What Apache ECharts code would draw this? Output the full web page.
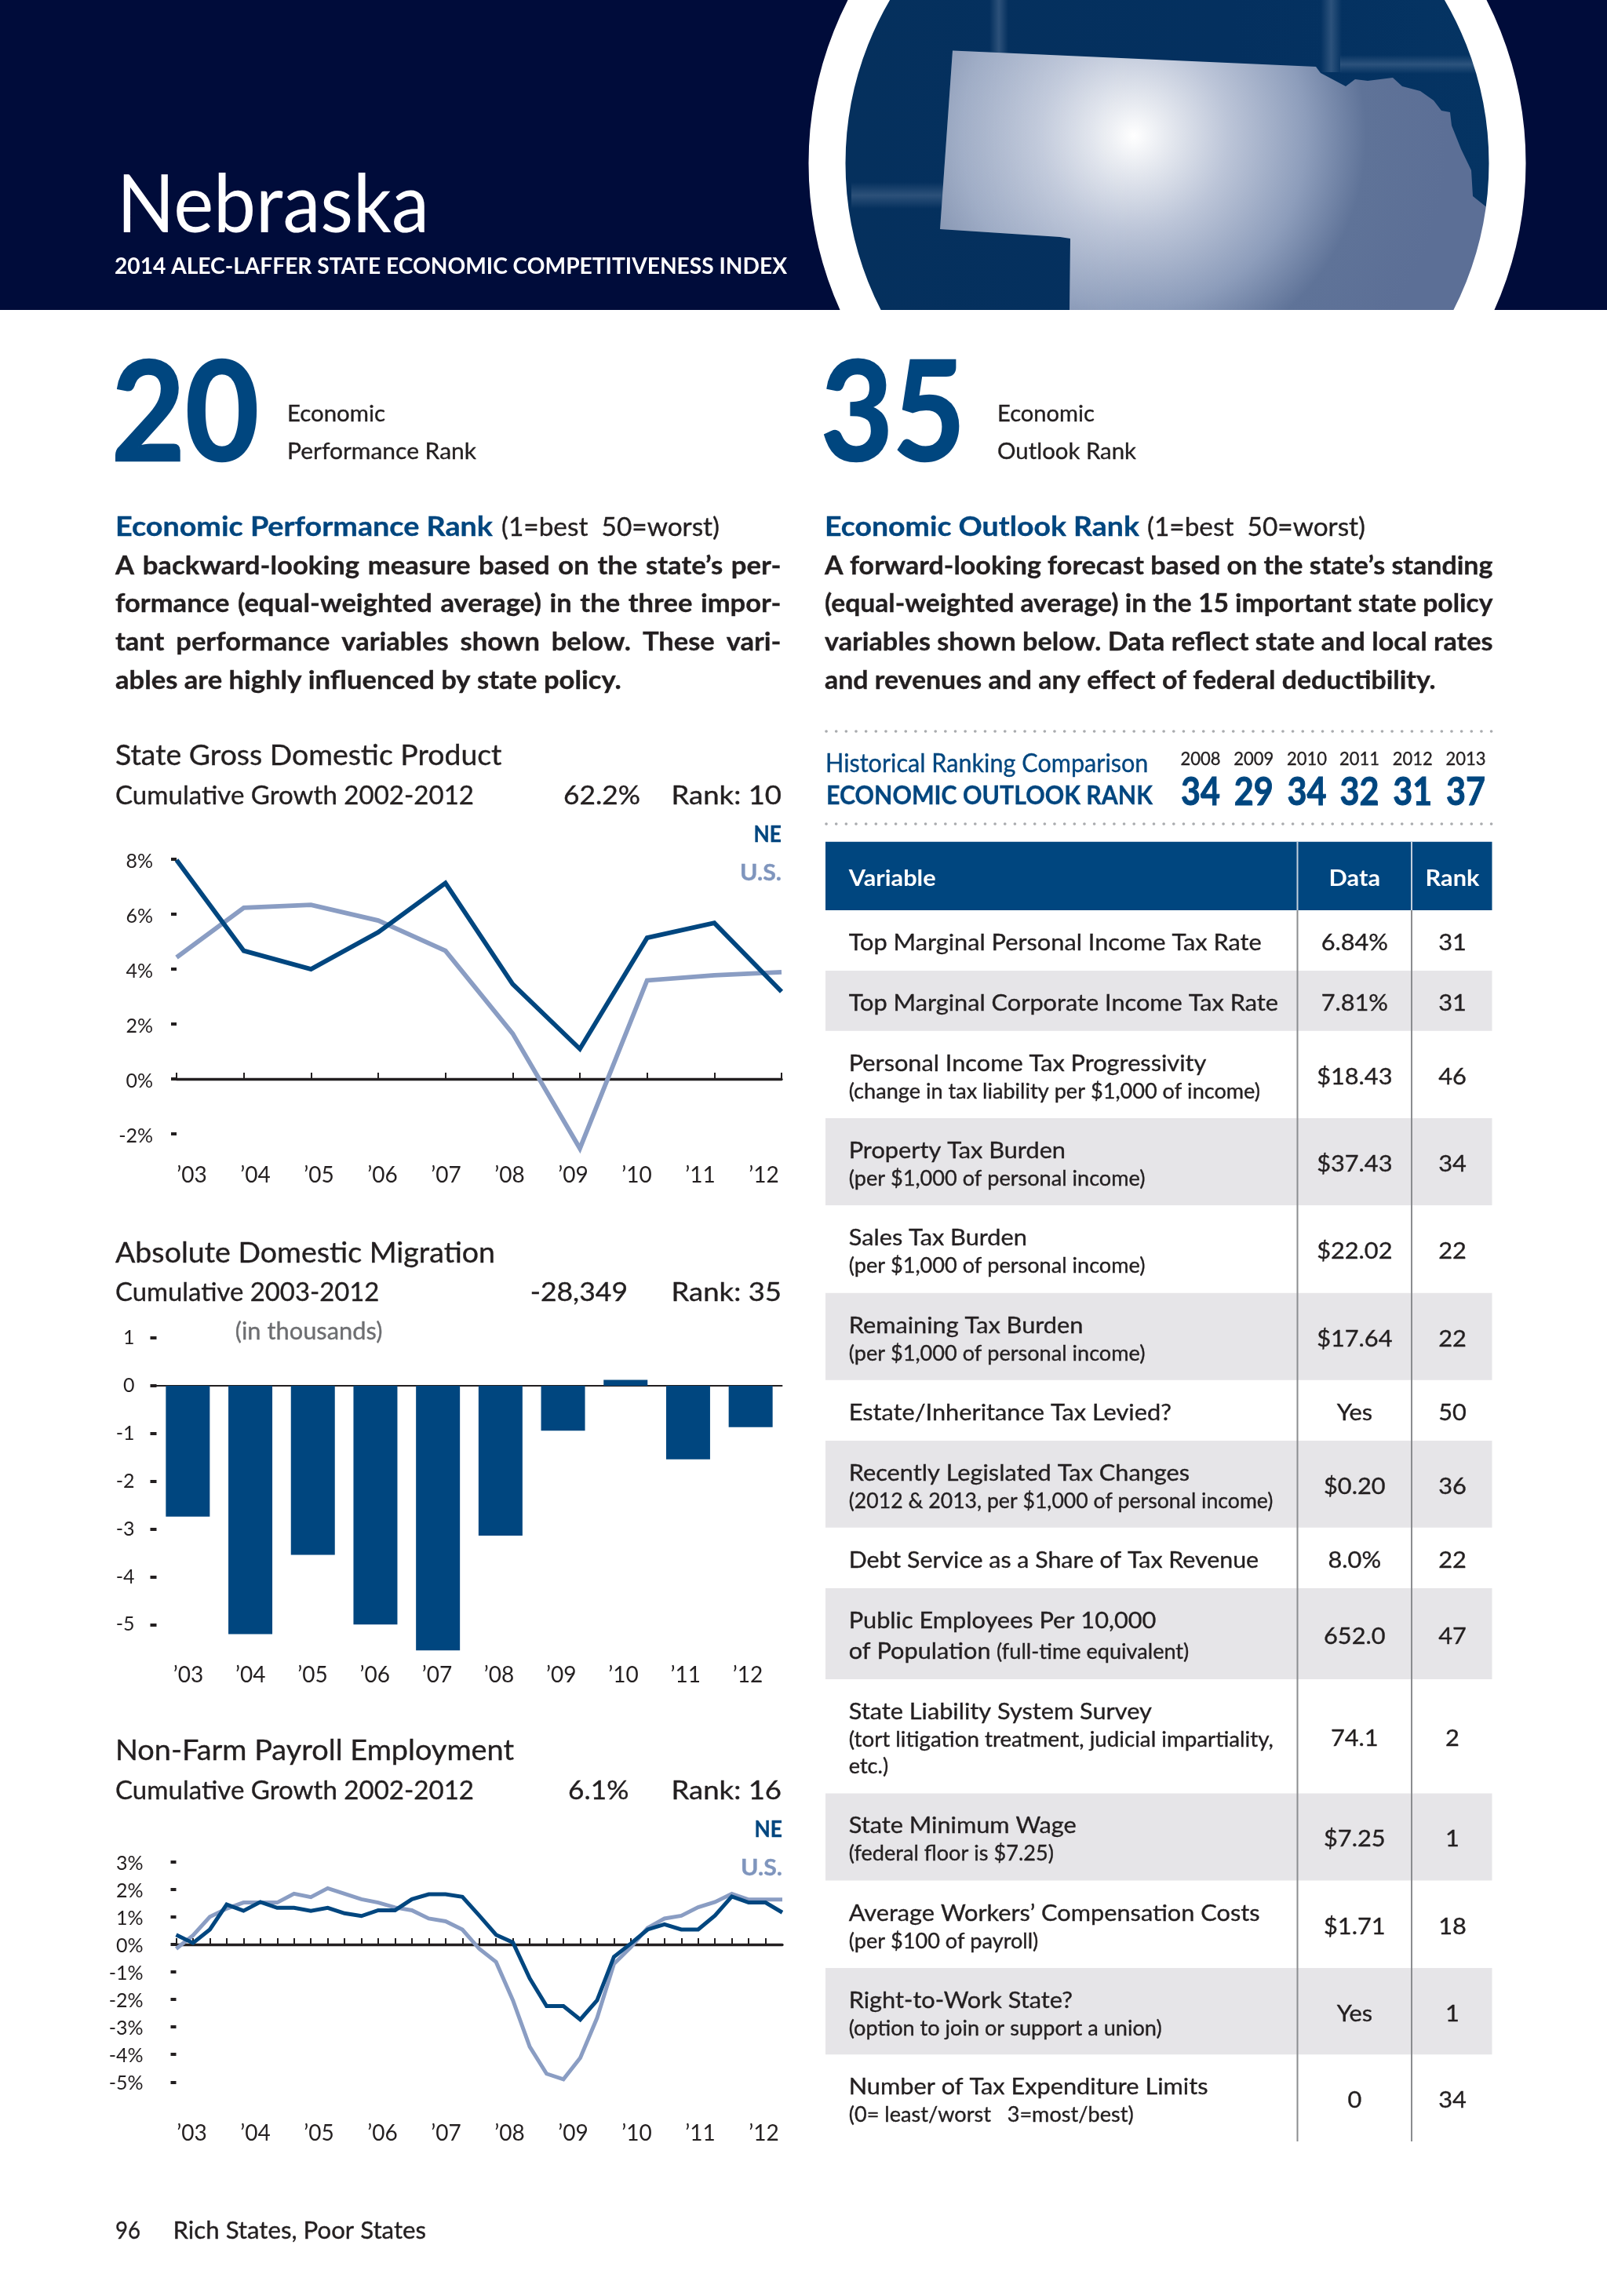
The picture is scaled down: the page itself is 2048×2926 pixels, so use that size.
<!DOCTYPE html>
<html lang="en">
<head>
<meta charset="utf-8">
<title>Nebraska – 2014 ALEC-Laffer State Economic Competitiveness Index</title>
<style>html,body{margin:0;padding:0;background:#fff}#page{width:2048px;height:2926px}</style>
<script src="https://cdn.jsdelivr.net/npm/echarts@6/dist/echarts.min.js"></script>
</head>
<body>
<div id="page"></div>
<script>
// ---------- data ----------
const yearLabels = ["’03","’04","’05","’06","’07","’08","’09","’10","’11","’12"];
const gdpNE = [7.96,4.66,3.99,5.33,7.12,3.45,1.09,5.13,5.67,3.17];
const gdpUS = [4.42,6.22,6.33,5.76,4.66,1.65,-2.53,3.58,3.77,3.88];
const migration = [-2.74,-5.2,-3.54,-5.0,-5.54,-3.14,-0.94,0.12,-1.54,-0.87];
const payrollNE = [0.35,0.05,0.54,1.45,1.22,1.54,1.33,1.33,1.22,1.33,1.13,1.03,1.24,1.24,1.64,1.82,1.82,1.73,1.05,0.35,0.07,-1.24,-2.24,-2.24,-2.73,-2.03,-0.45,0.03,0.54,0.73,0.54,0.54,1.05,1.74,1.52,1.52,1.16];
const payrollUS = [-0.16,0.33,1.0,1.3,1.52,1.52,1.52,1.84,1.72,2.04,1.84,1.64,1.52,1.34,1.24,0.94,0.84,0.54,-0.16,-0.64,-2.03,-3.72,-4.7,-4.9,-4.12,-2.67,-0.71,-0.1,0.6,0.94,1.04,1.35,1.54,1.84,1.63,1.63,1.63];
const histYears = ["2008","2009","2010","2011","2012","2013"];
const histRanks = ["34","29","34","32","31","37"];
const tableMain = ["Top Marginal Personal Income Tax Rate","Top Marginal Corporate Income Tax Rate","Personal Income Tax Progressivity","Property Tax Burden","Sales Tax Burden","Remaining Tax Burden","Estate/Inheritance Tax Levied?","Recently Legislated Tax Changes","Debt Service as a Share of Tax Revenue","Public Employees Per 10,000","State Liability System Survey","State Minimum Wage","Average Workers’ Compensation Costs","Right-to-Work State?","Number of Tax Expenditure Limits"];
const tableSub = ["","","(change in tax liability per $1,000 of income)","(per $1,000 of personal income)","(per $1,000 of personal income)","(per $1,000 of personal income)","","(2012 & 2013, per $1,000 of personal income)","","","(tort litigation treatment, judicial impartiality,","(federal floor is $7.25)","(per $100 of payroll)","(option to join or support a union)","(0= least/worst   3=most/best)"];
const tableData = ["6.84%","7.81%","$18.43","$37.43","$22.02","$17.64","Yes","$0.20","8.0%","652.0","74.1","$7.25","$1.71","Yes","0"];
const tableRank = ["31","31","46","34","22","22","50","36","22","47","2","1","18","1","34"];

// ---------- page constants ----------
const BLUE="#00467f", LIGHT="#8a9dc3", INK="#231f20", FONT="Lato";
const ctx=document.createElement("canvas").getContext("2d");
const els=[];
function fontOf(size,bold){return (bold?"bold ":"")+size+"px "+FONT;}
function widthOf(s,size,bold){ctx.font=fontOf(size,bold);return ctx.measureText(s).width;}
function T(s,x,base,size,o){
  o=o||{};const f=fontOf(size,o.bold);ctx.font=f;ctx.textBaseline="middle";
  const off=ctx.measureText("H").actualBoundingBoxDescent;ctx.textBaseline="alphabetic";
  const sx=o.w?o.w/ctx.measureText(s).width:(o.sx||1);
  const fill=o.fill||INK, lw=o.lw===undefined?0.35:o.lw;
  els.push({type:"text",x:x,y:base-off,scaleX:sx,silent:true,
    style:{text:s,font:f,fill:fill,stroke:lw?fill:null,lineWidth:lw,textAlign:o.align||"left",verticalAlign:"middle"}});
}
function R(x,y,w,h,fill){els.push({type:"rect",silent:true,shape:{x:x,y:y,width:w,height:h},style:{fill:fill}});}
function L(x1,y1,x2,y2,stroke,lw,dash){els.push({type:"line",silent:true,shape:{x1:x1,y1:y1,x2:x2,y2:y2},style:{stroke:stroke,lineWidth:lw,lineDash:dash||null,lineCap:dash?"round":"butt"}});}
// stretch a justified line: widen word gaps with hair spaces, then fit exactly
function J(s,x,base,size,w,k,bold){
  ctx.font=fontOf(size,bold);
  const gaps=(s.match(/ /g)||[]).length, hw=ctx.measureText("\u200A").width;
  const extra=w/k-ctx.measureText(s).width;
  let out=s;
  if(hw>0&&gaps>0&&extra>0){const n=Math.round(extra/gaps/hw);out=s.replace(/ /g," "+"\u200A".repeat(n));}
  T(out,x,base,size,{bold:bold,w:w});
}

// ---------- header ----------
R(0,0,2048,395,"#000c3a");
els.push({type:"circle",silent:true,shape:{cx:1487,cy:208,r:412},style:{fill:{type:"linear",x:0,y:0,x2:1,y2:0,colorStops:[{offset:0,color:"#05305d"},{offset:.6,color:"#04305f"},{offset:1,color:"#053463"}]}}});
function streak(x,y,w,h,vertical){els.push({type:"rect",silent:true,shape:{x:x,y:y,width:w,height:h},style:{fill:{type:"linear",x:0,y:0,x2:vertical?1:0,y2:vertical?0:1,colorStops:[{offset:0,color:"rgba(170,185,210,0)"},{offset:.5,color:"rgba(170,185,210,.24)"},{offset:1,color:"rgba(170,185,210,0)"}]}}});}
streak(1261,0,24,70,true);streak(1683,0,27,92,true);streak(1708,70,190,24,false);streak(1085,232,118,34,false);
const nebraskaOutline=[[1214,64.5],[1677,85],[1683,93],[1715,110],[1727,101],[1743,103],[1775,99],[1787,110],[1810,116],[1827,128],[1837,141],[1848,143],[1850,160],[1862,190],[1875,217],[1877,250],[1892,262],[1902,270],[1902,396],[1363,396],[1364,304],[1351,302],[1198,292]];
els.push({type:"polygon",silent:true,shape:{points:nebraskaOutline},
  style:{fill:{type:"radial",x:1445,y:173,r:400,global:true,colorStops:[{offset:0,color:"#ffffff"},{offset:.1,color:"#e8ebf1"},{offset:.3,color:"#bcc5d8"},{offset:.55,color:"#8d9dbb"},{offset:.74,color:"#5f7398"},{offset:1,color:"#5c6f96"}]}}});
els.push({type:"polygon",silent:true,shape:{points:nebraskaOutline},
  style:{fill:{type:"linear",x:1198,y:0,x2:1450,y2:0,global:true,colorStops:[{offset:0,color:"rgba(255,255,255,.2)"},{offset:1,color:"rgba(255,255,255,0)"}]}}});
els.push({type:"circle",silent:true,shape:{cx:1487.5,cy:208,r:433.5},style:{fill:"none",stroke:"#fff",lineWidth:47}});
R(0,395,2048,2531,"#fff");
T("Nebraska",149,296,103,{fill:"#fff",w:398,lw:0});
T("2014 ALEC-LAFFER STATE ECONOMIC COMPETITIVENESS INDEX",146,349,29,{fill:"#fff",bold:true,w:857,lw:0});

// ---------- rank blocks ----------
T("20",142,587,176,{fill:BLUE,bold:true,w:188,lw:2.5});
T("Economic",366,537,29,{w:125});
T("Performance Rank",366,585,29,{w:241});
T("35",1046,587,176,{fill:BLUE,bold:true,w:184,lw:2.5});
T("Economic",1271,537,29,{w:124});
T("Outlook Rank",1271,585,29,{w:177});

// ---------- paragraphs ----------
const BODY=33;
const kBody=644.6/widthOf("ables are highly influenced by state policy.",BODY,true);
T("Economic Performance Rank",147,683,35,{fill:BLUE,bold:true,w:481});
T("(1=best  50=worst)",639,683,32,{w:278});
[["A backward-looking measure based on the state’s per-",732],["formance (equal-weighted average) in the three impor-",780],["tant performance variables shown below. These vari-",829]]
  .forEach(a=>J(a[0],147,a[1],BODY,848.5,kBody,true));
T("ables are highly influenced by state policy.",147,878,BODY,{bold:true,w:644.6});
T("Economic Outlook Rank",1051,683,35,{fill:BLUE,bold:true,w:401});
T("(1=best  50=worst)",1462,683,32,{w:278});
[["A forward-looking forecast based on the state’s standing",732],["(equal-weighted average) in the 15 important state policy",780],["variables shown below. Data reflect state and local rates",829]]
  .forEach(a=>J(a[0],1051,a[1],BODY,851.5,kBody,true));
T("and revenues and any effect of federal deductibility.",1051,878,BODY,{bold:true,w:778.6});

// ---------- chart headings ----------
function heading(title,tw,tb,sub,sw,sb,val,vx,vw,rank){
  T(title,147,tb,36,{w:tw});T(sub,147,sb,32,{w:sw});T(val,vx,sb,32,{w:vw});T(rank,855.5,sb,32,{w:140.5});
}
heading("State Gross Domestic Product",492.5,975,"Cumulative Growth 2002-2012",457,1024.5,"62.2%",718,98,"Rank: 10");
T("NE",996,1072.5,28,{fill:BLUE,bold:true,align:"right",w:35.5});
T("U.S.",996,1121.5,28,{fill:"#7f95bd",bold:true,align:"right",w:53});
heading("Absolute Domestic Migration",484,1609,"Cumulative 2003-2012",336.4,1657.5,"-28,349",675.7,124.3,"Rank: 35");
T("(in thousands)",299.7,1707,30,{fill:"#6d6e71",w:187.7});
heading("Non-Farm Payroll Employment",508,2243,"Cumulative Growth 2002-2012",457,2292.5,"6.1%",724,77.4,"Rank: 16");
T("NE",997,2340.5,28,{fill:BLUE,bold:true,align:"right",w:35.5});
T("U.S.",997,2389.5,28,{fill:"#7f95bd",bold:true,align:"right",w:53});
T("96",147,2853,30,{w:32});
T("Rich States, Poor States",220.5,2853,30,{w:322.5});

// ---------- historical ranking ----------
L(1053,932,1903,932,"#a9abae",3.6,[.1,12.55]);
L(1053,1050,1903,1050,"#a9abae",3.6,[.1,12.55]);
T("Historical Ranking Comparison",1052,983.5,32,{fill:BLUE,w:411.4});
T("ECONOMIC OUTLOOK RANK",1053,1024.5,32,{fill:BLUE,bold:true,w:416});
const histX=[1530,1597.7,1665.5,1732.5,1800.2,1868];
histYears.forEach((y,i)=>T(y,histX[i],975,23,{align:"center",w:51}));
histRanks.forEach((r,i)=>T(r,histX[i],1026,50,{fill:BLUE,bold:true,align:"center",w:50,lw:1}));

// ---------- table ----------
const MAIN=29,SUB=26;
const TX=1052,TW=849.5,C1=1653.5,C2=1799,DX=1726.3,RX=1851,VX=1081.7;
const rowEdges=[1160,1237,1313.7,1425,1536,1647.7,1758.7,1836,1946.8,2024,2140,2285.4,2396.5,2508,2618.3,2729];
const kMain=526/widthOf(tableMain[0],MAIN), kSub=377.7/widthOf(tableSub[3],SUB);
const subWidthOverride={7:540.7,10:541},mainWidthOverride={8:522.4};
R(TX,1072.7,TW,87.3,BLUE);
tableMain.forEach((m,i)=>{ if(i%2===1)R(TX,rowEdges[i],TW,rowEdges[i+1]-rowEdges[i],"#e6e5e8"); });
L(C1,1072.7,C1,1160,"#c3cfdc",2);L(C2,1072.7,C2,1160,"#c3cfdc",2);
L(C1,1160,C1,2729,"#8b8d90",2);L(C2,1160,C2,2729,"#8b8d90",2);
T("Variable",VX,1128.5,MAIN,{fill:"#fff",bold:true,sx:kMain,lw:0});
T("Data",DX,1128.5,MAIN,{fill:"#fff",bold:true,align:"center",sx:kMain,lw:0});
T("Rank",RX,1128.5,MAIN,{fill:"#fff",bold:true,align:"center",sx:kMain,lw:0});
tableMain.forEach((m,i)=>{
  const top=rowEdges[i],bot=rowEdges[i+1],c=(top+bot)/2;
  T(m,VX,top+51,MAIN,{sx:kMain,w:mainWidthOverride[i]});
  if(i===9){
    T("of Population",VX,top+89.5,MAIN,{sx:kMain});
    T("(full-time equivalent)",1270,top+89.5,SUB,{sx:kSub});
  }
  if(tableSub[i])T(tableSub[i],VX,top+86,SUB,{sx:kSub,w:subWidthOverride[i]});
  if(i===10)T("etc.)",VX,top+119.5,SUB,{sx:kSub});
  T(tableData[i],DX,c+12.5,MAIN,{align:"center",sx:kMain});
  T(tableRank[i],RX,c+12.5,MAIN,{align:"center",sx:kMain});
});

// ---------- charts ----------
const TICK_SIZE=25;
const tickLabel={fontFamily:FONT,fontSize:TICK_SIZE,color:INK,verticalAlign:"top"};
const shift=d=>[d-TICK_SIZE/2,0,0,0]; // moves a tick label d px below its tick
const grids=[],xAxes=[],yAxes=[],series=[];
function lineChart(cfg){
  const g=grids.length;
  grids.push({left:cfg.left,top:cfg.top,width:cfg.width,height:cfg.height});
  xAxes.push({gridIndex:g,type:"category",boundaryGap:false,data:cfg.cats,
    axisLine:{onZero:true,lineStyle:{color:INK,width:3.4}},
    axisTick:{inside:true,length:8,alignWithLabel:true,lineStyle:{color:INK,width:2},interval:cfg.tickInterval||0},
    axisLabel:{show:false},splitLine:{show:false}});
  yAxes.push({gridIndex:g,type:"value",min:cfg.min,max:cfg.max,interval:cfg.step,
    axisLine:{show:false},axisTick:{show:true,length:7,lineStyle:{color:INK,width:4}},
    axisLabel:Object.assign({margin:cfg.margin,formatter:"{value}%",padding:shift(cfg.labelShift)},tickLabel),splitLine:{show:false}});
  [[cfg.us,LIGHT],[cfg.ne,BLUE]].forEach(a=>series.push({type:"line",xAxisIndex:g,yAxisIndex:g,data:a[0],
    showSymbol:false,symbol:"none",smooth:false,animation:false,silent:true,clip:false,
    lineStyle:{color:a[1],width:cfg.lw,join:"miter",cap:"butt"}}));
}
// a separate, invisible grid that only carries the year labels
function yearAxis(left,width,y){
  const g=grids.length;
  grids.push({left:left,top:y-20,width:width,height:20});
  xAxes.push({gridIndex:g,type:"category",data:yearLabels,axisLine:{show:false},axisTick:{show:false},
    axisLabel:{fontFamily:FONT,fontSize:28,color:INK,margin:10,interval:0,verticalAlign:"top"},splitLine:{show:false}});
  yAxes.push({gridIndex:g,type:"value",show:false,min:0,max:1});
}

lineChart({left:225,top:1094.6,width:771,height:350.4,cats:yearLabels,min:-2,max:8,step:2,margin:30,labelShift:3,lw:5.8,ne:gdpNE,us:gdpUS});
yearAxis(204,810,1474);

// migration bars
(function(){
  const g=grids.length;
  const marks=[-5,-4,-3,-2,-1,0,1];
  grids.push({left:199.5,top:1705,width:797,height:401.9});
  xAxes.push({gridIndex:g,type:"category",data:yearLabels,
    axisLine:{onZero:true,lineStyle:{color:INK,width:2}},axisTick:{show:false},axisLabel:{show:false},splitLine:{show:false}});
  yAxes.push({gridIndex:g,type:"value",min:-5.6,max:1,
    axisLine:{show:false},axisTick:{show:true,length:8,customValues:marks,lineStyle:{color:INK,width:4}},
    axisLabel:Object.assign({margin:28,customValues:marks,padding:shift(0)},tickLabel),splitLine:{show:false}});
  series.push({type:"bar",xAxisIndex:g,yAxisIndex:g,data:migration,barWidth:56,animation:false,silent:true,itemStyle:{color:BLUE}});
})();
yearAxis(200.5,792,2111);

lineChart({left:224.5,top:2372.7,width:772.5,height:280.6,cats:payrollNE.map((_,i)=>String(i)),min:-5,max:3,step:1,margin:42,labelShift:2,lw:5,ne:payrollNE,us:payrollUS,
  tickInterval:(i)=>i<payrollNE.length-1});
yearAxis(204,810,2695);

const chart=echarts.init(document.getElementById("page"),null,{width:2048,height:2926,renderer:"canvas",devicePixelRatio:1});
chart.setOption({animation:false,backgroundColor:"#fff",tooltip:{show:false},
  grid:grids,xAxis:xAxes,yAxis:yAxes,series:series,graphic:{elements:els}});
</script>
</body>
</html>
